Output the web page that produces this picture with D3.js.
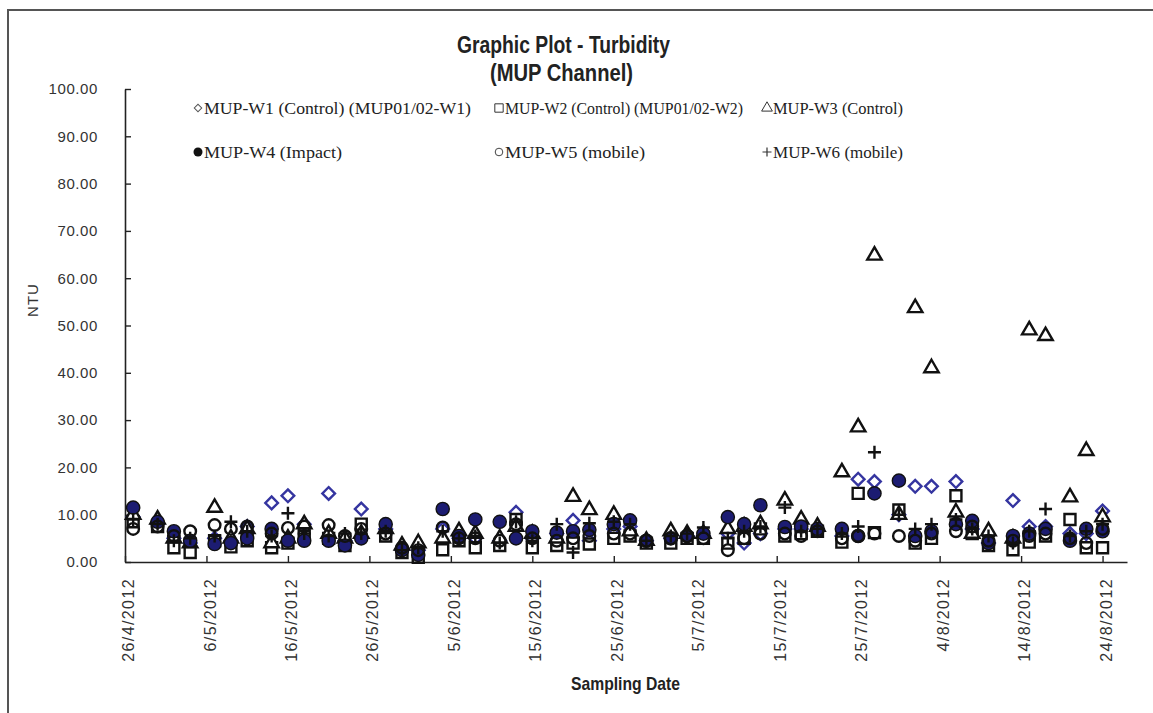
<!DOCTYPE html>
<html>
<head>
<meta charset="utf-8">
<script src="https://cdn.jsdelivr.net/npm/d3@7"></script>
<style>
  body { margin: 0; background: #fff; }
  svg { display: block; }
</style>
</head>
<body>
<div id="container"></div>
<script>
// sampling dates (Mon / Wed / Fri)
var dates = ["27/4/2012","30/4/2012","2/5/2012","4/5/2012","7/5/2012","9/5/2012","11/5/2012",
  "14/5/2012","16/5/2012","18/5/2012","21/5/2012","23/5/2012","25/5/2012","28/5/2012","30/5/2012",
  "1/6/2012","4/6/2012","6/6/2012","8/6/2012","11/6/2012","13/6/2012","15/6/2012","18/6/2012",
  "20/6/2012","22/6/2012","25/6/2012","27/6/2012","29/6/2012","2/7/2012","4/7/2012","6/7/2012",
  "9/7/2012","11/7/2012","13/7/2012","16/7/2012","18/7/2012","20/7/2012","23/7/2012","25/7/2012",
  "27/7/2012","30/7/2012","1/8/2012","3/8/2012","6/8/2012","8/8/2012","10/8/2012","13/8/2012",
  "15/8/2012","17/8/2012","20/8/2012","22/8/2012","24/8/2012"];

// turbidity (NTU) per station
var w1 = [9.5,8,5,4,5,4.5,7.5,12.5,14,8,14.5,4.5,11.2,7,2.5,2.5,7,5,5,4.5,10.5,5,6,8.8,4.5,7,
  7.5,4.5,5,5.5,5.5,6,4,6,7,7,7,5.5,17.5,17,10,16,16,17,7,4,13,7.5,7.5,6,6,10.8];
var w2 = [8.5,7.5,3,2,4.5,3.2,4.5,3,4,5.5,5,3.5,8,5.5,2,1,2.6,4.5,3,3.5,9,3,3.5,4,3.8,5,
  5.5,4,4,5,5,4,5,7,5.5,6,6.5,4.2,14.5,6.2,11,4,5,14,6,3.5,2.6,4.2,5.5,9,3,3];
var w3 = [10,9,5,4,11.5,5,7,4,5,8,6,5,6,7,3.5,4,5,6.5,6,5,7.5,6,5,13.8,11,10,
  6.5,4.5,6.5,6,6,7,7.5,8,13,9,7.5,19,28.5,64.8,10,53.7,41,10.5,6,6.5,5,49,47.8,13.7,23.5,9.5];
var w4 = [11.5,8.5,6.5,4.5,3.8,4,5,7,4.5,4.5,4.5,3.5,5,8,2.5,1.5,11.2,5.5,9,8.5,5,6.5,6.2,6.5,6.8,8,
  8.8,4.5,5,5.5,6,9.5,8,12,7.4,7.5,7,7,5.5,14.5,17.2,5.5,6.5,8,8.7,4,5.5,6,7,4.5,7,6.5];
var w5 = [7,7.5,5.5,6.5,7.8,7,7.5,6,7.2,7.5,7.8,5.5,7,6,3,2.5,7.3,5,5,4.5,8,5,4.5,5,5.5,6,
  6,4.5,5,5.5,5,2.5,5,6,6,5.5,6.5,5,5.5,6,5.5,4.5,6,6.5,7.5,4.5,4.5,5.5,6,5,4,7];
var w6 = [9,8,4.5,5,5.5,8.5,6.5,5.5,10.3,6,5.5,6,6,6.5,2.5,3,6.5,5,5.5,4,8.5,4.5,8,2,8.2,8.5,
  8,4.5,5.5,6,7.3,5,6.5,7.5,11.5,6.5,7,6,7.5,23.2,10,7,8,9,7,5.5,4,6.5,11.2,5.5,6.5,8];

var seriesNames = ["MUP-W1 (Control) (MUP01/02-W1)", "MUP-W2 (Control) (MUP01/02-W2)", "MUP-W3 (Control)",
  "MUP-W4 (Impact)", "MUP-W5 (mobile)", "MUP-W6 (mobile)"];
var seriesValues = [w1, w2, w3, w4, w5, w6];
var shapes = ["diamond", "square", "triangle", "dot", "circle", "plus"];

var xTickLabels = ["26/4/2012","6/5/2012","16/5/2012","26/5/2012","5/6/2012","15/6/2012","25/6/2012",
  "5/7/2012","15/7/2012","25/7/2012","4/8/2012","14/8/2012","24/8/2012"];
var yTicks = [0,10,20,30,40,50,60,70,80,90,100];

var w = 1153, h = 713;
var parse = d3.timeParse("%d/%m/%Y");
var narrow = "'Liberation Sans Narrow', 'Arial Narrow', 'Liberation Sans', Arial, sans-serif";

var svg = d3.select("div#container")
  .append("svg")
  .attr("width", w)
  .attr("height", h)
  .attr("viewBox", `0 0 ${w} ${h}`);

svg.append("rect").attr("width", w).attr("height", h).attr("fill", "#fff");

// outer frame (left and top edge visible)
svg.append("path")
  .attr("d", "M8,713V10H1153")
  .attr("fill", "none")
  .attr("stroke", "#555")
  .attr("stroke-width", 2);

var plot = { left: 125, right: 1127, top: 89, bottom: 562 };

var x = d3.scaleTime()
  .domain([parse("26/4/2012"), parse("27/8/2012")])
  .range([plot.left, plot.right]);

var y = d3.scaleLinear()
  .domain([0, 100])
  .range([plot.bottom, plot.top]);

// y axis
var yAxis = svg.append("g")
  .attr("transform", `translate(${plot.left},0)`)
  .call(d3.axisLeft(y).tickValues(yTicks).tickFormat(d3.format(".2f"))
    .tickSizeInner(-6).tickSizeOuter(0).tickPadding(27));
yAxis.select(".domain").attr("stroke", "#222").attr("stroke-width", 1.6);
yAxis.selectAll(".tick line").attr("stroke", "#222").attr("stroke-width", 1.4);
yAxis.selectAll("text")
  .attr("fill", "#333")
  .style("font-family", "'Liberation Sans', Arial, sans-serif")
  .style("font-size", "15px")
  .style("letter-spacing", "0.6px");

// x axis
var xAxis = svg.append("g")
  .attr("transform", `translate(0,${plot.bottom})`)
  .call(d3.axisBottom(x).tickValues(xTickLabels.map(parse))
    .tickFormat(d3.timeFormat("%-d/%-m/%Y"))
    .tickSizeInner(-6).tickSizeOuter(0));
xAxis.select(".domain").attr("stroke", "#222").attr("stroke-width", 1.6);
xAxis.selectAll(".tick line").attr("stroke", "#222").attr("stroke-width", 1.4);
xAxis.selectAll("text")
  .attr("x", 0).attr("y", 0).attr("dy", "0.35em")
  .attr("text-anchor", "end")
  .attr("transform", "translate(3,16) rotate(-90)")
  .attr("fill", "#333")
  .style("font-family", "'Liberation Sans', Arial, sans-serif")
  .style("font-size", "16px")
  .style("letter-spacing", "1.4px");

// axis titles
svg.append("text")
  .attr("transform", "translate(38,300) rotate(-90)")
  .attr("text-anchor", "middle")
  .style("font-family", "'Liberation Sans', Arial, sans-serif")
  .style("font-size", "15px")
  .style("letter-spacing", "1px")
  .attr("fill", "#333")
  .text("NTU");

svg.append("text")
  .attr("x", 571).attr("y", 690)
  .attr("textLength", 109).attr("lengthAdjust", "spacingAndGlyphs")
  .style("font-family", narrow)
  .style("font-size", "19px")
  .style("font-weight", "bold")
  .attr("fill", "#222")
  .text("Sampling Date");

// title
svg.append("text")
  .attr("x", 457).attr("y", 53)
  .attr("textLength", 213).attr("lengthAdjust", "spacingAndGlyphs")
  .style("font-family", narrow)
  .style("font-size", "23px")
  .style("font-weight", "bold")
  .attr("fill", "#222")
  .text("Graphic Plot - Turbidity");
svg.append("text")
  .attr("x", 490).attr("y", 81)
  .attr("textLength", 143).attr("lengthAdjust", "spacingAndGlyphs")
  .style("font-family", narrow)
  .style("font-size", "23px")
  .style("font-weight", "bold")
  .attr("fill", "#222")
  .text("(MUP Channel)");

// marker styles
var blue = "#3535a0", navy = "#1c1c72";
function drawMarker(sel, shape) {
  if (shape === "diamond") {
    sel.append("path")
      .attr("d", d3.symbol(d3.symbolSquare, 80)())
      .attr("transform", "rotate(45)")
      .attr("fill", "#fff").attr("stroke", blue).attr("stroke-width", 2.4);
  } else if (shape === "square") {
    sel.append("path")
      .attr("d", d3.symbol(d3.symbolSquare, 121)())
      .attr("fill", "#fff").attr("stroke", "#111").attr("stroke-width", 2.4);
  } else if (shape === "triangle") {
    sel.append("path")
      .attr("d", d3.symbol(d3.symbolTriangle, 90)())
      .attr("fill", "#fff").attr("stroke", "#111").attr("stroke-width", 2.4);
  } else if (shape === "dot") {
    sel.append("circle").attr("r", 6.6)
      .attr("fill", navy).attr("stroke", "#111").attr("stroke-width", 1.4);
  } else if (shape === "circle") {
    sel.append("circle").attr("r", 5.8)
      .attr("fill", "none").attr("stroke", "#111").attr("stroke-width", 2.4);
  } else {
    sel.append("path")
      .attr("d", "M-6.5,0H6.5M0,-6.5V6.5")
      .attr("fill", "none").attr("stroke", "#111").attr("stroke-width", 2.4);
  }
}

// points, drawn series by series (later series on top)
var points = svg.append("g").attr("class", "points");
seriesValues.forEach(function(vals, si) {
  var g = points.append("g").attr("class", "series-" + (si + 1));
  vals.forEach(function(v, i) {
    var m = g.append("g")
      .attr("transform", `translate(${x(parse(dates[i]))},${y(v)})`);
    drawMarker(m, shapes[si]);
  });
});

// legend
var legendX = [193, 494, 762];
var legendY = [108, 152];
var legendTextLen = [267, 238, 130, 138, 140, 130];
var legend = svg.append("g").attr("class", "legend");
seriesNames.forEach(function(name, i) {
  var lx = legendX[i % 3], ly = legendY[Math.floor(i / 3)];
  var item = legend.append("g").attr("transform", `translate(${lx},${ly})`);
  var sym = item.append("g").attr("transform", "translate(5,0)");
  if (shapes[i] === "diamond") {
    sym.append("path").attr("d", d3.symbol(d3.symbolSquare, 28)())
      .attr("transform", "rotate(45)").attr("fill", "none").attr("stroke", "#555").attr("stroke-width", 1);
  } else if (shapes[i] === "square") {
    sym.append("path").attr("d", d3.symbol(d3.symbolSquare, 70)())
      .attr("fill", "none").attr("stroke", "#333").attr("stroke-width", 1);
  } else if (shapes[i] === "triangle") {
    sym.append("path").attr("d", d3.symbol(d3.symbolTriangle, 50)())
      .attr("fill", "none").attr("stroke", "#333").attr("stroke-width", 1);
  } else if (shapes[i] === "dot") {
    sym.append("circle").attr("r", 4.5).attr("fill", "#111");
  } else if (shapes[i] === "circle") {
    sym.append("circle").attr("r", 3.8).attr("fill", "none").attr("stroke", "#444").attr("stroke-width", 1);
  } else {
    sym.append("path").attr("d", "M-4.5,0H4.5M0,-4.5V4.5").attr("stroke", "#333").attr("stroke-width", 1.2);
  }
  item.append("text")
    .attr("x", 11).attr("y", 0).attr("dy", "0.35em")
    .attr("textLength", legendTextLen[i]).attr("lengthAdjust", "spacingAndGlyphs")
    .style("font-family", "'Liberation Serif', 'Times New Roman', serif")
    .style("font-size", "17px")
    .attr("fill", "#222")
    .text(name);
});
</script>
</body>
</html>
